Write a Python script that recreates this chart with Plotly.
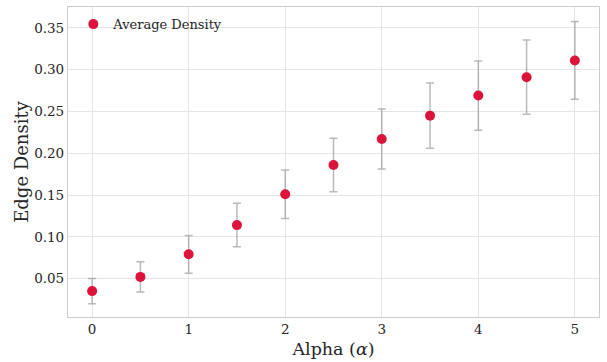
import plotly.graph_objects as go

alpha = [0, 0.5, 1, 1.5, 2, 2.5, 3, 3.5, 4, 4.5, 5]
density = [0.035, 0.052, 0.079, 0.114, 0.151, 0.186, 0.217, 0.245, 0.269, 0.291, 0.311]
std = [0.015, 0.018, 0.0225, 0.026, 0.029, 0.032, 0.036, 0.039, 0.0415, 0.0445, 0.0465]

fig = go.Figure()
fig.add_trace(go.Scatter(
    x=alpha, y=density, mode="markers", name="Average Density",
    marker=dict(color="#DC143C", size=10),
    error_y=dict(type="data", array=std, visible=True, color="rgba(140,140,140,0.6)",
                 thickness=1.5, width=4),
))

font = "DejaVu Serif, serif"
fig.update_layout(
    width=607, height=362,
    margin=dict(l=68, r=8, t=6, b=44),
    paper_bgcolor="white", plot_bgcolor="white",
    font=dict(family=font, size=13, color="#262626"),
    showlegend=True,
    legend=dict(x=0.01, y=0.993, xanchor="left", yanchor="top",
                bgcolor="rgba(255,255,255,0)", font=dict(size=13, color="#262626"),
                itemwidth=30),
    xaxis=dict(range=[-0.25, 5.25], tickvals=[0, 1, 2, 3, 4, 5],
               showgrid=True, gridcolor="#e5e5e5", gridwidth=1,
               zeroline=False, showline=True, linecolor="#cccccc", linewidth=1.2,
               mirror=True, ticks="", tickfont=dict(size=13.5),
               title=dict(text="Alpha (<i>α</i>)", font=dict(size=17.5), standoff=6)),
    yaxis=dict(range=[0.004, 0.375], tickvals=[0.05, 0.10, 0.15, 0.20, 0.25, 0.30, 0.35],
               tickformat=".2f",
               showgrid=True, gridcolor="#e5e5e5", gridwidth=1,
               zeroline=False, showline=True, linecolor="#cccccc", linewidth=1.2,
               mirror=True, ticks="", tickfont=dict(size=13.5),
               title=dict(text="Edge Density", font=dict(size=18), standoff=0)),
)
fig.write_html("out.html")
